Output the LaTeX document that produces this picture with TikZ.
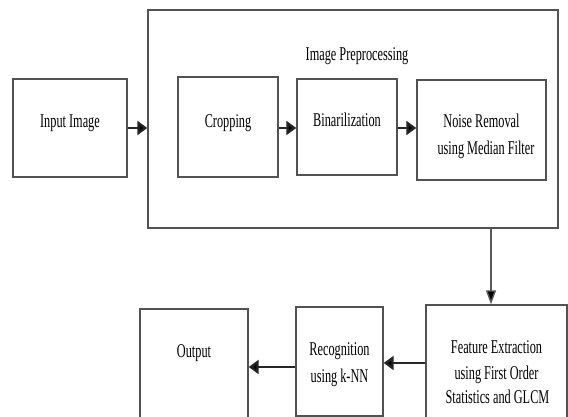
\documentclass[tikz,border=0pt]{standalone}
\usepackage{fontspec}
\setmainfont{Liberation Serif}[FakeStretch=0.63]
\usetikzlibrary{arrows.meta}
\tikzset{
  box/.style={draw=black!68, line width=1.4pt, inner sep=0pt},
  txt/.style={inner sep=0pt, anchor=base, font=\fontsize{19.5}{26}\selectfont},
  arr/.style={draw=black!85, line width=2.3pt, -{Triangle[length=10pt,width=14pt,fill=black]}},
  varr/.style={draw=black!65, line width=1.4pt, -{Triangle[length=14pt,width=10pt,fill=black]}},
}
\begin{document}
\begin{tikzpicture}[x=1pt,y=-1pt]
\useasboundingbox (0,0) rectangle (568,417);
\fill[white] (0,0) rectangle (568,417);
\clip (0,0) rectangle (568,417);
% outer preprocessing frame
\node[box, minimum width=410pt, minimum height=218pt] (outer) at (353,119) {};
\node[txt] (title) at (357,61) {Image Preprocessing};
% top row boxes
\node[box, minimum width=114pt, minimum height=98pt] (inp) at (70,128) {};
\node[box, minimum width=100pt, minimum height=100pt] (crop) at (228,127) {};
\node[box, minimum width=100pt, minimum height=96pt] (bin) at (347,127) {};
\node[box, minimum width=129pt, minimum height=100pt] (noise) at (481.5,130) {};
% top row texts
\node[txt] (inptxt) at (70,128) {Input Image};
\node[txt] (croptxt) at (228,128) {Cropping};
\node[txt] (bintxt) at (347,127) {Binarilization};
\node[txt] (noisetxtA) at (481.5,128) {Noise Removal};
\node[txt] (noisetxtB) at (486,155) {using Median Filter};
% bottom row boxes
\node[box, minimum width=141pt, minimum height=134pt] (feat) at (496.5,372) {};
\node[box, minimum width=87pt, minimum height=109pt] (rec) at (339.5,361.5) {};
\node[box, minimum width=108pt, minimum height=130pt] (out) at (194,374) {};
% bottom row texts
\node[txt] (feattxtA) at (496.5,353) {Feature Extraction};
\node[txt] (feattxtB) at (496.5,379) {using First Order};
\node[txt] (feattxtC) at (497.5,403) {Statistics and GLCM};
\node[txt] (rectxtA) at (339.5,355) {Recognition};
\node[txt] (rectxtB) at (339.5,382) {using k-NN};
\node[txt] (outtxt) at (194,357) {Output};
% connectors
\draw[arr] (inp.east) -- (inp.east -| outer.west);
\draw[arr] ([yshift=-1pt]crop.east) -- ([yshift=-1pt]crop.east -| bin.west);
\draw[arr] ([yshift=-1pt]bin.east) -- ([yshift=-1pt]bin.east -| noise.west);
\draw[varr] ([xshift=-5.5pt]feat.north |- outer.south) -- ([xshift=-5.5pt]feat.north);
\draw[arr] ([yshift=9pt]feat.west) -- ([yshift=9pt]feat.west -| rec.east);
\draw[arr] ([yshift=-5.5pt]rec.west) -- ([yshift=-5.5pt]rec.west -| out.east);
\end{tikzpicture}
\end{document}
